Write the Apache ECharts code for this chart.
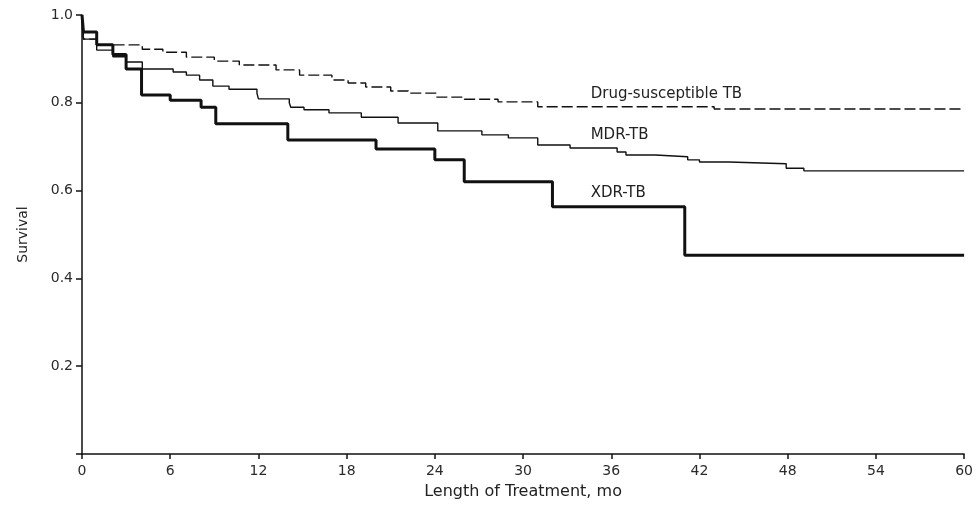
<!DOCTYPE html>
<html>
<head>
<meta charset="utf-8">
<script src="https://cdn.jsdelivr.net/npm/echarts@6/dist/echarts.min.js"></script>
<style>
  html, body { margin: 0; padding: 0; background: #fff; }
  #chart { width: 976px; height: 507px; }
</style>
</head>
<body>
<div id="chart"></div>
<script>
// months at which survival changes, and the survival from then on
const dsMonths = [0, 0.1, 1.0, 4.1, 5.5, 7.1, 9.0, 10.7, 13.2, 14.8, 17.0, 18.1, 19.3, 21.0, 22.2, 24.1, 26.0, 28.3, 31.0, 43.0, 60];
const dsSurv   = [1.0, 0.945, 0.932, 0.922, 0.915, 0.904, 0.895, 0.886, 0.875, 0.863, 0.852, 0.845, 0.836, 0.827, 0.822, 0.813, 0.808, 0.802, 0.791, 0.786, 0.786];

const mdrMonths = [0, 0.1, 1.0, 2.1, 3.0, 4.1, 6.2, 7.1, 8.0, 8.9, 10.0, 11.9, 12.0, 14.1, 14.2, 15.1, 16.8, 19.0, 21.5, 24.2, 27.2, 29.0, 31.0, 33.2, 36.4, 37.0, 39.0, 41.2, 42.0, 44.0, 47.9, 49.1, 60];
const mdrSurv   = [1.0, 0.945, 0.920, 0.905, 0.893, 0.877, 0.870, 0.863, 0.852, 0.838, 0.831, 0.822, 0.809, 0.800, 0.790, 0.784, 0.777, 0.767, 0.754, 0.736, 0.727, 0.720, 0.704, 0.697, 0.688, 0.681, 0.677, 0.670, 0.665, 0.661, 0.651, 0.645, 0.645];

const xdrMonths = [0, 0.1, 1.0, 2.1, 3.0, 4.05, 6.0, 8.1, 9.1, 14.0, 20.0, 24.0, 26.0, 32.0, 41.0, 60];
const xdrSurv   = [1.0, 0.961, 0.932, 0.910, 0.877, 0.818, 0.806, 0.790, 0.752, 0.715, 0.695, 0.670, 0.620, 0.563, 0.453, 0.453];

// curve labels: text, month of left edge, survival at text middle
const labelNames  = ['Drug-susceptible TB', 'MDR-TB', 'XDR-TB'];
const labelMonths = [34.6, 34.6, 34.6];
const labelSurv   = [0.820, 0.727, 0.595];

const xTicks = [0, 6, 12, 18, 24, 30, 36, 42, 48, 54, 60];

const FONT = 'DejaVu Sans';
const INK = '#111';

const pairs = (xs, ys) => xs.map((x, i) => [x, ys[i]]);

const chart = echarts.init(document.getElementById('chart'), null, {renderer: 'canvas'});

const curve = (name, xs, ys, width, type, labelIdx) => ({
  name,
  type: 'line',
  step: 'end',
  showSymbol: false,
  silent: true,
  animation: false,
  data: pairs(xs, ys),
  lineStyle: {color: INK, width, type},
  markPoint: {
    symbol: 'circle',
    symbolSize: 0,
    silent: true,
    label: {
      show: true,
      position: 'right',
      distance: 0,
      formatter: labelNames[labelIdx],
      color: '#222',
      fontFamily: FONT,
      fontSize: 15,
    },
    data: [{coord: [labelMonths[labelIdx], labelSurv[labelIdx]]}],
  },
});

chart.setOption({
  animation: false,
  backgroundColor: '#fff',
  grid: {left: 82, right: 8, top: 15, bottom: 53},
  xAxis: {
    type: 'value',
    min: xTicks[0],
    max: xTicks[xTicks.length - 1],
    interval: 6,
    name: 'Length of Treatment, mo',
    nameLocation: 'middle',
    nameGap: 30,
    nameTextStyle: {fontFamily: FONT, fontSize: 16, color: '#222'},
    axisLine: {lineStyle: {color: INK, width: 1.5}},
    axisTick: {show: true, length: 5, lineStyle: {color: INK, width: 1.5}},
    axisLabel: {fontFamily: FONT, fontSize: 14, color: '#2a2a2a', margin: 10},
    splitLine: {show: false},
  },
  yAxis: {
    type: 'value',
    min: 0,
    max: 1,
    interval: 0.2,
    name: 'Survival',
    nameLocation: 'middle',
    nameGap: 52,
    nameTextStyle: {fontFamily: FONT, fontSize: 14, color: '#222'},
    axisLine: {show: true, lineStyle: {color: INK, width: 1.5}},
    axisTick: {show: true, length: 6, lineStyle: {color: INK, width: 1.5}},
    axisLabel: {
      fontFamily: FONT, fontSize: 14, color: '#2a2a2a', margin: 9,
      formatter: v => (v === 0 ? '' : v.toFixed(1)),
    },
    splitLine: {show: false},
  },
  series: [
    curve('Drug-susceptible TB', dsMonths, dsSurv, 1.4, [11, 4], 0),
    curve('MDR-TB', mdrMonths, mdrSurv, 1.4, 'solid', 1),
    curve('XDR-TB', xdrMonths, xdrSurv, 3, 'solid', 2),
  ],
});
</script>
</body>
</html>
